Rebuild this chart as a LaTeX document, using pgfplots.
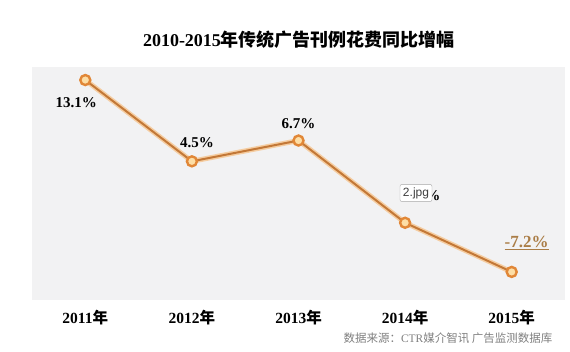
\documentclass[border=0pt]{standalone}
\usepackage{pgfplots}
\pgfplotsset{compat=1.18}
\usepackage{fontspec}
\setmainfont{Liberation Serif}
\newfontfamily\cjk{Noto Sans CJK SC}
\newfontfamily\lsans{Liberation Sans}
\definecolor{bgc}{RGB}{242,242,243}
\definecolor{lineor}{RGB}{195,120,55}
\definecolor{glow}{RGB}{248,175,95}
\definecolor{ring}{RGB}{225,135,55}
\definecolor{mfill}{RGB}{253,222,165}
\definecolor{goldlab}{RGB}{170,125,70}
\begin{document}
\begin{tikzpicture}
\useasboundingbox (0,0) rectangle (570pt,352pt);
\node[font=\fontsize{18}{18}\selectfont\bfseries] at (299pt,312pt) {2010-2015{\cjk 年传统广告刊例花费同比增幅}};
\begin{axis}[
  at={(32pt,52pt)}, anchor=south west,
  scale only axis, width=533pt, height=233pt,
  xmin=-0.5, xmax=4.5, ymin=-10.17, ymax=14.48,
  axis background/.style={fill=bgc},
  axis line style={draw=none},
  major tick length=0pt,
  ytick=\empty,
  xtick={0,1,2,3,4},
  xticklabels={2011{\cjk\bfseries 年},2012{\cjk\bfseries 年},2013{\cjk\bfseries 年},2014{\cjk\bfseries 年},2015{\cjk\bfseries 年}},
  xticklabel style={anchor=center, yshift=-18pt, font=\fontsize{15.5}{15.5}\selectfont\bfseries},
  clip=false,
]
\addplot[glow, line width=5pt, opacity=0.55] coordinates {(0,13.1) (1,4.5) (2,6.7) (3,-2.0) (4,-7.2)};
\addplot[lineor, line width=2pt, mark=*, mark size=5pt,
  mark options={fill=mfill, draw=ring, line width=2.4pt}]
  coordinates {(0,13.1) (1,4.5) (2,6.7) (3,-2.0) (4,-7.2)};
\node[font=\fontsize{15}{15}\selectfont\bfseries] at (axis cs:0,13.1) [xshift=-9pt, yshift=-23pt] {13.1\%};
\node[font=\fontsize{15}{15}\selectfont\bfseries] at (axis cs:1,4.5) [xshift=5pt, yshift=19pt] {4.5\%};
\node[font=\fontsize{15}{15}\selectfont\bfseries] at (axis cs:2,6.7) [xshift=0pt, yshift=17pt] {6.7\%};
\node[font=\fontsize{15}{15}\selectfont\bfseries] at (axis cs:3,-2.0) [xshift=16pt, yshift=27pt] {-2.0\%};
\node[font=\fontsize{17}{17}\selectfont\bfseries, text=goldlab] at (axis cs:4,-7.2) [xshift=15pt, yshift=29pt] {\underline{-7.2\%}};
\end{axis}
\node[draw=gray!70, fill=white, rounded corners=2pt, inner sep=3pt, text=black!75, font=\lsans\fontsize{12}{12}\selectfont] at (416pt,159pt) {2.jpg};
\node[anchor=east, text=black!50, font=\fontsize{11.5}{11.5}\selectfont] at (556pt,14pt) {{\cjk 数据来源：}CTR{\cjk 媒介智讯 广告监测数据库}};
\end{tikzpicture}
\end{document}
